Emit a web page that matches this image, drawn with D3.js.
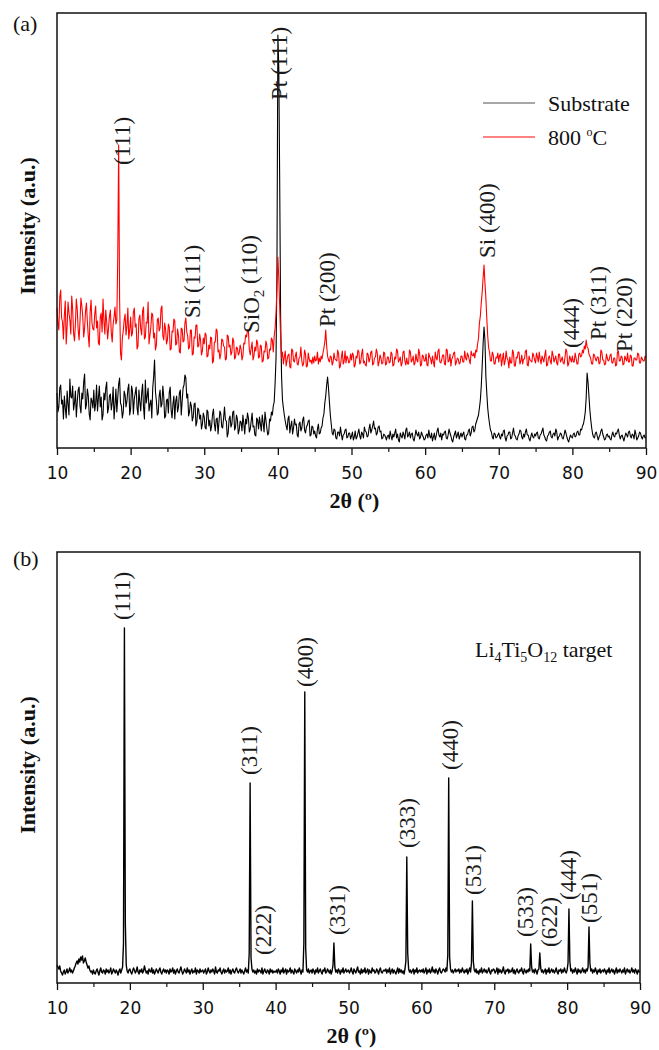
<!DOCTYPE html>
<html>
<head>
<meta charset="utf-8">
<script src="https://cdn.jsdelivr.net/npm/d3@7"></script>
<style>
  body { margin: 0; background: #fff; }
  svg { display: block; }
</style>
</head>
<body>
<svg id="chart" width="659" height="1050"></svg>
<script>
// 2θ grid shared by every scan (10° to 90°, 0.125° step)
const twoTheta = d3.range(641).map(i => 10 + i * 0.125);

// (a) bare substrate scan, arbitrary units (one row per 5°)
const substrate = [
  55,36,41,60,63,44,48,29,52,40,30,57,44,33,69,51,50,62,38,45,57,31,46,58,61,42,35,55,49,66,74,39,43,59,52,34,28,50,47,40,
  58,37,44,63,37,50,62,41,51,28,33,55,48,60,66,35,40,52,54,38,45,61,29,43,59,36,50,64,70,45,42,30,36,57,53,41,47,59,64,33,
  39,62,57,34,49,55,61,40,33,58,46,37,55,64,41,29,68,45,52,60,37,44,48,30,60,71,88,56,47,33,35,52,58,41,44,62,51,30,32,48,
  49,35,56,61,38,30,44,52,29,47,52,36,41,55,58,33,47,60,63,73,70,50,54,32,36,46,42,27,31,44,45,22,26,40,38,29,33,19,24,35,
  31,20,19,38,36,22,28,17,22,34,39,24,17,29,30,14,26,37,34,21,20,30,41,28,27,11,15,29,32,21,24,36,37,18,21,33,29,14,18,27,
  26,17,33,24,14,29,24,35,30,16,19,27,35,21,22,13,12,30,28,19,31,24,17,33,25,16,36,28,20,13,15,29,27,36,33,42,46,65,90,180,
  413,380,262,130,72,48,40,33,27,22,18,29,32,15,22,27,14,20,29,23,24,13,11,24,26,17,20,28,31,18,15,21,23,27,28,12,13,22,21,14,
  17,12,10,19,24,14,15,20,22,30,34,45,52,63,71,60,46,33,24,15,13,19,18,10,9,16,16,12,21,14,8,13,14,18,19,10,11,15,15,9,
  12,16,8,11,17,9,11,15,19,12,9,16,14,10,21,17,16,11,12,19,24,15,18,22,27,19,20,13,15,21,22,16,17,9,10,14,13,11,8,12,
  13,9,17,12,8,14,11,15,19,10,14,8,6,15,12,10,16,13,9,18,20,11,13,16,10,14,15,9,7,12,18,14,12,16,9,11,16,13,11,8,
  9,13,14,10,18,12,10,15,7,11,15,8,12,17,20,13,11,15,8,14,13,16,17,10,9,13,19,15,12,8,6,11,14,17,10,13,16,9,12,15,
  11,14,16,9,8,13,13,17,19,12,15,21,22,16,18,24,27,30,33,40,48,62,82,104,121,108,72,55,40,31,24,18,16,11,9,15,14,10,11,13,
  15,11,9,14,12,17,18,10,7,12,13,16,16,9,10,15,20,13,12,9,8,12,14,18,17,11,9,14,11,16,19,13,13,9,7,12,15,11,10,14,
  12,15,16,10,9,13,14,17,20,13,11,8,7,12,13,16,17,11,10,14,15,12,19,16,8,11,12,15,14,10,9,13,18,15,11,8,6,10,13,11,
  10,14,15,11,12,16,17,13,13,19,18,22,24,29,36,50,75,66,52,38,28,20,14,11,10,15,16,12,8,11,13,17,19,14,11,8,9,13,14,11,
  12,9,8,13,16,12,11,15,14,17,19,13,9,12,13,10,7,11,15,13,11,16,17,12,10,14,13,9,18,14,8,10,12,16,15,11,9,12,13,10,
  11
];

// (a) film annealed at 800 °C, arbitrary units (one row per 5°)
const film800 = [
  140,125,118,151,158,130,126,109,133,147,104,122,146,135,128,114,152,139,115,107,124,149,139,118,108,127,150,142,131,111,120,137,145,126,112,101,136,148,125,119,
  118,134,142,120,127,105,103,131,135,116,149,127,114,138,126,109,120,132,138,115,106,124,131,141,124,128,190,303,150,95,88,110,117,128,134,113,122,140,109,118,
  131,112,115,136,140,121,124,99,102,129,133,119,113,137,141,109,111,126,125,146,104,113,121,135,133,110,115,98,103,128,130,117,120,139,142,112,108,125,119,104,
  108,124,121,98,99,117,116,129,127,103,104,119,113,96,95,120,119,106,107,125,130,116,112,99,101,118,118,93,94,111,110,123,123,101,102,114,108,93,97,110,
  104,115,113,91,92,103,99,111,110,85,87,106,106,119,117,96,98,89,94,109,108,102,101,88,89,113,112,101,103,93,96,110,107,89,91,101,100,93,95,103,
  99,88,92,105,104,113,111,118,117,98,93,100,106,88,92,101,97,108,105,90,91,103,102,86,87,97,96,107,103,89,90,99,98,110,108,96,112,120,135,160,
  191,170,140,110,90,96,84,91,97,82,88,93,94,81,80,99,98,87,86,92,96,84,83,90,91,101,87,82,85,98,94,81,82,95,89,86,88,84,91,85,
  92,87,88,96,84,90,86,92,89,95,100,106,118,102,92,88,86,92,91,83,86,95,89,88,87,98,94,80,82,91,97,84,87,97,85,92,90,85,86,94,
  88,95,93,81,83,92,90,98,96,84,86,94,99,85,87,83,82,95,94,86,89,96,97,83,84,90,91,99,95,82,86,93,90,84,85,96,95,83,84,91,
  91,85,86,96,94,82,83,91,89,99,97,86,88,91,82,85,96,97,87,83,90,84,84,98,96,86,88,92,83,85,94,88,86,99,95,82,83,93,92,87,
  87,94,83,82,95,91,89,84,92,86,81,96,90,88,97,99,86,85,88,93,93,84,83,99,98,86,87,94,82,89,91,95,96,83,86,90,89,84,85,92,
  92,86,86,97,90,88,95,92,88,84,97,93,92,95,90,98,96,104,110,125,132,145,156,170,183,165,150,130,112,100,96,87,87,96,93,84,84,91,90,95,
  86,93,94,82,89,95,83,87,97,90,88,80,91,85,85,98,95,82,82,91,90,96,96,84,87,93,84,89,89,97,98,83,82,92,88,87,86,95,92,88,
  85,95,91,86,96,89,84,92,89,86,93,98,82,83,90,92,87,84,97,93,86,89,92,85,83,94,94,86,88,91,85,84,91,99,96,82,84,92,89,86,
  92,86,86,95,90,84,84,94,95,91,92,98,95,102,99,108,101,100,94,92,89,84,84,94,93,89,87,91,91,84,85,98,96,88,88,83,84,94,90,87,
  88,93,94,85,85,90,90,82,83,96,97,87,87,92,91,83,84,92,89,87,95,86,86,93,92,82,82,90,90,88,88,95,94,85,85,91,89,87,87,92,
  90
];

// (b) Li4Ti5O12 target scan, arbitrary units (one row per 5°)
const target = [
  18,16,14,17,12,10,8,11,13,9,11,14,10,12,15,11,13,10,12,15,17,20,22,19,24,21,26,23,27,20,22,25,21,18,15,17,13,11,12,9,
  13,10,9,12,14,11,8,12,15,11,10,13,12,9,14,11,13,10,12,15,9,11,14,12,10,13,11,8,12,14,10,13,16,40,355,60,18,12,10,13,
  14,11,9,12,15,13,10,12,16,11,9,13,11,14,10,12,17,13,10,12,9,14,12,11,15,10,13,9,11,14,12,10,13,15,11,9,12,14,11,13,
  10,13,12,9,14,11,12,15,10,13,9,12,14,11,10,13,16,12,9,11,14,12,10,15,11,13,9,12,14,10,12,11,15,9,13,12,10,14,11,12,
  13,10,12,14,9,11,15,12,10,13,11,14,12,9,16,11,10,13,12,15,11,9,12,14,10,13,11,12,15,10,13,9,12,14,11,10,13,15,12,10,
  12,14,10,13,11,9,12,15,11,13,10,30,200,25,14,11,13,10,12,9,14,11,13,12,10,15,9,12,14,11,10,13,12,9,14,11,13,10,12,11,
  11,13,10,14,12,9,13,11,15,10,12,14,9,13,11,12,15,10,13,11,9,14,12,10,13,11,15,12,9,13,11,40,291,35,13,11,14,10,12,13,
  10,14,12,9,13,11,15,10,12,14,11,9,13,12,15,10,11,14,12,10,13,9,12,18,40,16,11,13,10,14,12,9,13,11,15,10,12,14,11,12,
  13,10,12,15,11,9,14,12,10,13,16,11,12,9,14,10,13,11,15,10,12,14,9,13,11,10,15,12,13,10,11,14,12,9,13,15,11,10,12,13,
  12,14,10,13,11,15,9,12,14,10,13,11,9,12,15,10,14,11,13,10,12,9,14,22,126,30,14,11,13,10,12,14,9,13,11,15,10,12,13,11,
  13,11,14,10,12,15,9,13,11,14,10,12,16,11,13,10,14,12,9,13,15,11,10,12,14,13,11,15,12,28,205,26,14,11,13,10,12,14,11,13,
  12,14,10,13,11,15,12,10,13,11,14,9,12,15,11,20,82,22,13,11,14,10,12,9,13,11,15,10,12,14,11,13,10,12,15,11,9,13,12,14,
  13,10,12,15,9,14,11,13,10,12,16,11,9,13,12,14,10,13,11,12,15,10,13,9,12,14,11,10,13,12,15,11,9,14,12,10,13,11,14,12,
  39,16,11,13,10,14,12,9,13,14,30,15,11,13,10,12,14,9,13,11,15,10,12,14,11,13,10,12,15,11,9,13,12,14,10,13,11,15,12,10,
  13,20,74,22,12,14,10,13,11,15,12,9,14,11,13,10,12,15,11,13,10,14,12,16,56,20,12,14,10,13,11,15,12,9,13,11,14,10,12,13,
  11,14,12,9,13,11,15,10,12,14,11,13,9,12,15,10,13,11,14,12,10,13,11,15,9,12,14,11,13,10,12,15,11,13,10,14,12,9,13,11,
  12
];

// x-axis ticks
const majorTicks = [10, 20, 30, 40, 50, 60, 70, 80, 90];
const minorTicks = [15, 25, 35, 45, 55, 65, 75, 85];

// reflection labels, panel (a): text, 2θ position, height of the label foot
const labelsA = ["(111)", "Si (111)", "SiO_2 (110)", "Pt (111)", "Pt (200)", "Si (400)", "(444)", "Pt (311)", "Pt (220)"];
const labelsAtheta = [18.9, 28.4, 36.5, 40.3, 46.7, 68.5, 79.9, 83.5, 87.1];
const labelsAlevel = [283, 130, 115, 348, 121, 190, 100, 108, 96];

// reflection labels, panel (b)
const labelsB = ["(111)", "(311)", "(222)", "(400)", "(331)", "(333)", "(440)", "(531)", "(533)", "(622)", "(444)", "(551)"];
const labelsBtheta = [19.07, 36.4, 38.3, 44.1, 48.5, 58.1, 63.98, 67.2, 74.3, 77.6, 80.2, 83.1];
const labelsBlevel = [363, 208, 28, 296, 48, 135, 213, 88, 46, 36, 83, 60];

const svg = d3.select("#chart");
const SERIF = "'Liberation Serif', 'Times New Roman', serif";
const SANS = "'DejaVu Sans', Verdana, sans-serif";
const INK = "#111";

function makePanel(box, yMax) {
  const x = d3.scaleLinear().domain([10, 90]).range([box.left, box.right]);
  const y = d3.scaleLinear().domain([0, yMax]).range([box.bottom, box.top]);
  const g = svg.append("g");

  // major and minor ticks below the axis
  const maj = g.append("g").attr("transform", `translate(0,${box.bottom})`)
    .call(d3.axisBottom(x).tickValues(majorTicks).tickSize(7).tickSizeOuter(0).tickFormat(d3.format("d")));
  maj.select(".domain").remove();
  maj.selectAll("line").attr("stroke", INK).attr("stroke-width", 1.3);
  maj.selectAll("text")
    .attr("dy", null).attr("y", 31)
    .attr("fill", INK)
    .style("font-family", SANS).style("font-size", "17px");

  const minr = g.append("g").attr("transform", `translate(0,${box.bottom})`)
    .call(d3.axisBottom(x).tickValues(minorTicks).tickSize(4).tickSizeOuter(0).tickFormat(""));
  minr.select(".domain").remove();
  minr.selectAll("line").attr("stroke", INK).attr("stroke-width", 1.2);

  return { x, y, g };
}

function drawScan(p, values, color, width) {
  const line = d3.line()
    .x((d, i) => p.x(twoTheta[i]))
    .y(d => p.y(d));
  p.g.append("path")
    .datum(values)
    .attr("d", line)
    .attr("fill", "none")
    .attr("stroke", color)
    .attr("stroke-width", width)
    .attr("stroke-linejoin", "round");
}

function drawFrame(box) {
  svg.append("rect")
    .attr("x", box.left).attr("y", box.top)
    .attr("width", box.right - box.left).attr("height", box.bottom - box.top)
    .attr("fill", "none").attr("stroke", INK).attr("stroke-width", 1.5);
}

function drawLabels(p, texts, thetas, levels) {
  texts.forEach((t, i) => {
    const txt = p.g.append("text")
      .attr("transform", `translate(${p.x(thetas[i])},${p.y(levels[i])}) rotate(-90)`)
      .attr("fill", "#1a1a1a")
      .style("font-family", SERIF).style("font-size", "23px");
    const m = t.split("_");
    if (m.length === 1) {
      txt.append("tspan").attr("dy", "0.32em").text(t);
    } else {
      txt.append("tspan").attr("dy", "0.32em").text(m[0]);
      txt.append("tspan").attr("dy", "0.3em").style("font-size", "15px").text(m[1].charAt(0));
      txt.append("tspan").attr("dy", "-0.3em").text(m[1].slice(1));
    }
  });
}

function axisTitles(box, ycenter) {
  svg.append("text")
    .attr("x", (box.left + box.right) / 2 + 3).attr("y", box.bottom + 60)
    .attr("text-anchor", "middle")
    .attr("fill", INK)
    .style("font-family", SERIF).style("font-size", "22px").style("font-weight", "bold")
    .text("2θ (º)");
  svg.append("text")
    .attr("transform", `translate(35,${ycenter}) rotate(-90)`)
    .attr("text-anchor", "middle")
    .attr("fill", INK)
    .style("font-family", SERIF).style("font-size", "22px").style("font-weight", "bold")
    .text("Intensity (a.u.)");
}

// ---------- panel (a) ----------
const boxA = { left: 57, right: 646, top: 13, bottom: 448 };
const pA = makePanel(boxA, 435);
drawScan(pA, substrate, "#000", 1.1);
drawScan(pA, film800, "#ff0000", 1.1);
drawFrame(boxA);
drawLabels(pA, labelsA, labelsAtheta, labelsAlevel);
axisTitles(boxA, 226);

svg.append("text").attr("x", 13).attr("y", 31)
  .style("font-family", SERIF).style("font-size", "22px").attr("fill", INK).text("(a)");

// legend
const legend = svg.append("g");
legend.append("line").attr("x1", 483).attr("x2", 535).attr("y1", 103).attr("y2", 103)
  .attr("stroke", "#8a8a8a").attr("stroke-width", 1.4);
legend.append("line").attr("x1", 483).attr("x2", 535).attr("y1", 137).attr("y2", 137)
  .attr("stroke", "#ff5a5a").attr("stroke-width", 1.4);
legend.append("text").attr("x", 548).attr("y", 111)
  .style("font-family", SERIF).style("font-size", "22px").attr("fill", INK).text("Substrate");
const t800 = legend.append("text").attr("x", 548).attr("y", 145)
  .style("font-family", SERIF).style("font-size", "22px").attr("fill", INK);
t800.append("tspan").text("800 ");
t800.append("tspan").attr("dy", -9).style("font-size", "12px").text("o");
t800.append("tspan").attr("dy", 9).text("C");

// ---------- panel (b) ----------
const boxB = { left: 57, right: 640, top: 552, bottom: 983 };
const pB = makePanel(boxB, 431);
drawScan(pB, target, "#000", 1.4);
drawFrame(boxB);
drawLabels(pB, labelsB, labelsBtheta, labelsBlevel);
axisTitles(boxB, 765);

svg.append("text").attr("x", 13).attr("y", 566)
  .style("font-family", SERIF).style("font-size", "22px").attr("fill", INK).text("(b)");

const lto = svg.append("text").attr("x", 475).attr("y", 657)
  .style("font-family", SERIF).style("font-size", "22px").attr("fill", INK);
lto.append("tspan").text("Li");
lto.append("tspan").attr("dy", 5).style("font-size", "14px").text("4");
lto.append("tspan").attr("dy", -5).text("Ti");
lto.append("tspan").attr("dy", 5).style("font-size", "14px").text("5");
lto.append("tspan").attr("dy", -5).text("O");
lto.append("tspan").attr("dy", 5).style("font-size", "14px").text("12");
lto.append("tspan").attr("dy", -5).text(" target");
</script>
</body>
</html>
